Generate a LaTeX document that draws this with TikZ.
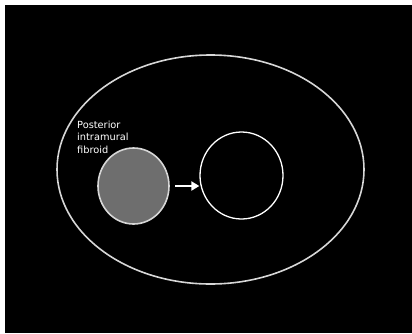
\documentclass[tikz,border=0pt]{standalone}
\usepackage{fontspec}
\setmainfont{DejaVu Sans}
\usetikzlibrary{arrows.meta,shapes.geometric}
\begin{document}
\begin{tikzpicture}[x=1pt,y=-1pt,
  organ/.style={draw={rgb,255:red,215;green,215;blue,215},line width=1.6pt},
  lbl/.style={text=white,font=\fontsize{9.8}{12.5}\selectfont,align=left,inner sep=0pt}]
\fill[white] (0,0) rectangle (412,333);
\fill[black] (5,5) rectangle (412,333);
\useasboundingbox (0,0) rectangle (412,333);
\node[organ,ellipse,minimum width=307pt,minimum height=229pt,inner sep=0pt] (uterus) at (210.5,169.5) {};
\node[organ,ellipse,fill={rgb,255:red,110;green,110;blue,110},minimum width=71pt,minimum height=76pt,inner sep=0pt] (fib) at (133.5,186) {};
\node[draw=white,line width=1.3pt,ellipse,minimum width=83pt,minimum height=87pt,inner sep=0pt] (cav) at (241.5,175.5) {};
\coordinate (a0) at (175,186);
\draw[white,line width=2.5pt,-{Triangle[length=8pt,width=9pt]}] (a0) -- (cav.west |- a0);
\node[lbl,anchor=north west] (txt) at (77,120.5) {Posterior\\intramural\\fibroid};
\end{tikzpicture}
\end{document}
